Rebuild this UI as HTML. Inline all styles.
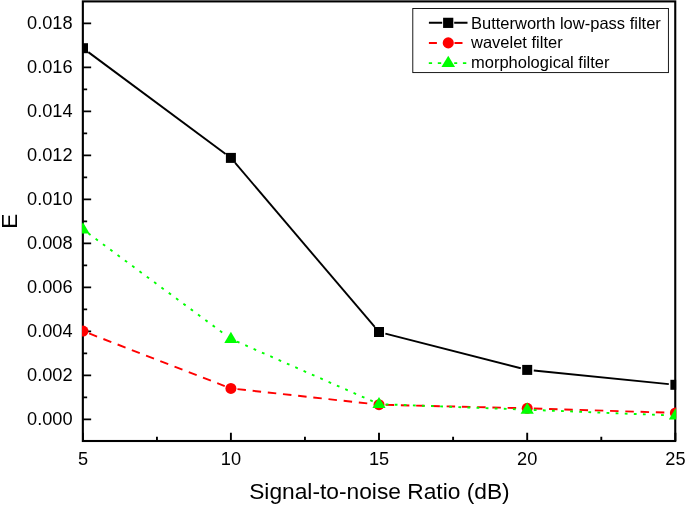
<!DOCTYPE html>
<html><head><meta charset="utf-8"><title>chart</title><style>html,body{margin:0;padding:0;background:#fff;overflow:hidden}</style></head><body>
<svg width="685" height="506" viewBox="0 0 685 506" style="display:block;will-change:transform" font-family="'Liberation Sans', sans-serif">
<rect width="685" height="506" fill="#fff"/>
<defs><clipPath id="c"><rect x="82" y="1" width="594.2" height="441"/></clipPath></defs>
<rect x="82.85" y="1.4" width="592.4" height="439.6" fill="none" stroke="#000" stroke-width="2.1"/>
<text x="72.6" y="425.00" font-size="18.2" text-anchor="end">0.000</text>
<text x="72.6" y="381.00" font-size="18.2" text-anchor="end">0.002</text>
<text x="72.6" y="337.00" font-size="18.2" text-anchor="end">0.004</text>
<text x="72.6" y="293.00" font-size="18.2" text-anchor="end">0.006</text>
<text x="72.6" y="249.00" font-size="18.2" text-anchor="end">0.008</text>
<text x="72.6" y="205.00" font-size="18.2" text-anchor="end">0.010</text>
<text x="72.6" y="161.00" font-size="18.2" text-anchor="end">0.012</text>
<text x="72.6" y="117.00" font-size="18.2" text-anchor="end">0.014</text>
<text x="72.6" y="73.00" font-size="18.2" text-anchor="end">0.016</text>
<text x="72.6" y="29.00" font-size="18.2" text-anchor="end">0.018</text>
<text x="83.00" y="465.3" font-size="18.2" text-anchor="middle">5</text>
<text x="230.90" y="465.3" font-size="18.2" text-anchor="middle">10</text>
<text x="379.00" y="465.3" font-size="18.2" text-anchor="middle">15</text>
<text x="527.20" y="465.3" font-size="18.2" text-anchor="middle">20</text>
<text x="675.40" y="465.3" font-size="18.2" text-anchor="middle">25</text>
<path d="M82.85 419.40h8.3 M82.85 375.40h8.3 M82.85 331.40h8.3 M82.85 287.40h8.3 M82.85 243.40h8.3 M82.85 199.40h8.3 M82.85 155.40h8.3 M82.85 111.40h8.3 M82.85 67.40h8.3 M82.85 23.40h8.3 M82.85 397.40h4.3 M82.85 353.40h4.3 M82.85 309.40h4.3 M82.85 265.40h4.3 M82.85 221.40h4.3 M82.85 177.40h4.3 M82.85 133.40h4.3 M82.85 89.40h4.3 M82.85 45.40h4.3 M83.00 441.0v-8.3 M230.90 441.0v-8.3 M379.00 441.0v-8.3 M527.20 441.0v-8.3 M675.40 441.0v-8.3 M156.95 441.0v-4.3 M304.95 441.0v-4.3 M453.10 441.0v-4.3 M601.30 441.0v-4.3" stroke="#000" stroke-width="1.9" fill="none"/>
<text x="379.4" y="498.6" font-size="22.75" text-anchor="middle">Signal-to-noise Ratio (dB)</text>
<text transform="translate(17.0 221.2) rotate(-90)" font-size="22.6" text-anchor="middle">E</text>
<g clip-path="url(#c)">
<line x1="88.30" y1="52.13" x2="225.60" y2="153.97" stroke="#000" stroke-width="1.9"/>
<line x1="235.18" y1="162.93" x2="374.72" y2="326.97" stroke="#000" stroke-width="1.9"/>
<line x1="385.39" y1="333.64" x2="520.81" y2="368.26" stroke="#000" stroke-width="1.9"/>
<line x1="533.77" y1="370.56" x2="668.83" y2="384.14" stroke="#000" stroke-width="1.9"/>
<rect x="78.00" y="43.20" width="10" height="10" fill="#000"/>
<rect x="225.90" y="152.90" width="10" height="10" fill="#000"/>
<rect x="374.00" y="327.00" width="10" height="10" fill="#000"/>
<rect x="522.20" y="364.90" width="10" height="10" fill="#000"/>
<rect x="670.40" y="379.80" width="10" height="10" fill="#000"/>
<line x1="89.15" y1="333.48" x2="224.75" y2="386.02" stroke="#f00" stroke-width="1.9" stroke-dasharray="8.5 6.76"/>
<line x1="237.46" y1="389.12" x2="372.44" y2="403.98" stroke="#f00" stroke-width="1.9" stroke-dasharray="8.5 6.76"/>
<line x1="385.60" y1="404.86" x2="520.60" y2="408.14" stroke="#f00" stroke-width="1.9" stroke-dasharray="8.5 6.76"/>
<line x1="533.80" y1="408.50" x2="668.80" y2="412.70" stroke="#f00" stroke-width="1.9" stroke-dasharray="8.5 6.76"/>
<circle cx="83.00" cy="331.10" r="5.5" fill="#f00"/>
<circle cx="230.90" cy="388.40" r="5.5" fill="#f00"/>
<circle cx="379.00" cy="404.70" r="5.5" fill="#f00"/>
<circle cx="527.20" cy="408.30" r="5.5" fill="#f00"/>
<circle cx="675.40" cy="412.90" r="5.5" fill="#f00"/>
<line x1="88.30" y1="233.33" x2="225.60" y2="334.97" stroke="#0f0" stroke-width="1.9" stroke-dasharray="2.8 6.3"/>
<line x1="236.94" y1="341.56" x2="372.96" y2="401.44" stroke="#0f0" stroke-width="1.9" stroke-dasharray="2.8 6.3"/>
<line x1="385.60" y1="404.35" x2="520.60" y2="409.45" stroke="#0f0" stroke-width="1.9" stroke-dasharray="2.8 6.3"/>
<line x1="533.79" y1="409.96" x2="668.81" y2="415.34" stroke="#0f0" stroke-width="1.9" stroke-dasharray="2.8 6.3"/>
<polygon points="83.00,222.20 76.40,233.40 89.60,233.40" fill="#0f0"/>
<polygon points="230.90,331.70 224.30,342.90 237.50,342.90" fill="#0f0"/>
<polygon points="379.00,396.90 372.40,408.10 385.60,408.10" fill="#0f0"/>
<polygon points="527.20,402.50 520.60,413.70 533.80,413.70" fill="#0f0"/>
<polygon points="675.40,408.40 668.80,419.60 682.00,419.60" fill="#0f0"/>
</g>
<rect x="412.8" y="8.5" width="255.6" height="64.1" fill="#fff" stroke="#000" stroke-width="0.9"/>
<path d="M428.9 22.7H442.2M454.2 22.7H467.5" stroke="#000" stroke-width="2.0"/><rect x="443.10" y="17.75" width="10.2" height="10.2" fill="#000"/>
<path d="M428.9 42.9H436.9M454.5 42.9H462.5" stroke="#f00" stroke-width="2.0"/><circle cx="448.25" cy="42.90" r="5.55" fill="#f00"/>
<path d="M428.8 63.1h3.3M437.8 63.1h3.4M454.2 63.1h3M462.9 63.1h3.4" stroke="#0f0" stroke-width="1.9"/><polygon points="448.25,55.75 441.45,66.95 455.05,66.95" fill="#0f0"/>
<text x="471.0" y="28.6" font-size="16.5">Butterworth low-pass filter</text>
<text x="471.0" y="48.4" font-size="16.5">wavelet filter</text>
<text x="471.0" y="68.1" font-size="16.5">morphological filter</text>
</svg>
</body></html>
